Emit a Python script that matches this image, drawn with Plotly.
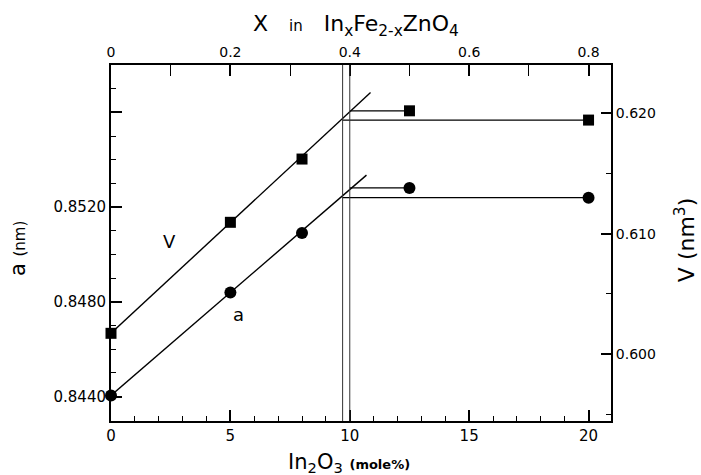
import plotly.graph_objects as go

# ---- data ----
in2o3_mole = [0, 5, 8, 12.5, 20]
lattice_a = [0.84405, 0.84840, 0.85091, 0.85281, 0.85240]
volume_v = [0.60172, 0.61095, 0.61621, 0.62022, 0.61945]

v_fit_x = [0, 10.87]
v_fit = [0.60172, 0.62175]
a_fit_x = [0, 10.70]
a_fit = [0.84405, 0.85335]

solubility_limits = [9.7, 10.0]

# tick settings (start, step)
bottom_tick0, bottom_dtick, bottom_minor = 0, 5, 1
top_tick0, top_dtick, top_minor = 0, 0.2, 0.1
left_tick0, left_dtick, left_minor = 0.8440, 0.004, 0.001
right_tick0, right_dtick, right_minor = 0.600, 0.010, 0.005

FONT = "DejaVu Sans"
X_RANGE = [0, 20.94]
fig = go.Figure()

# fit lines
fig.add_trace(go.Scatter(x=v_fit_x, y=v_fit, mode="lines", yaxis="y2",
                         line=dict(color="black", width=1.4), showlegend=False))
fig.add_trace(go.Scatter(x=a_fit_x, y=a_fit, mode="lines",
                         line=dict(color="black", width=1.4), showlegend=False))

# horizontal connectors beyond the solubility limit
fig.add_trace(go.Scatter(x=[solubility_limits[1], in2o3_mole[3]], y=[volume_v[3]] * 2,
                         mode="lines", yaxis="y2", line=dict(color="black", width=1.2), showlegend=False))
fig.add_trace(go.Scatter(x=[solubility_limits[0], in2o3_mole[4]], y=[volume_v[4]] * 2,
                         mode="lines", yaxis="y2", line=dict(color="black", width=1.2), showlegend=False))
fig.add_trace(go.Scatter(x=[solubility_limits[1], in2o3_mole[3]], y=[lattice_a[3]] * 2,
                         mode="lines", line=dict(color="black", width=1.2), showlegend=False))
fig.add_trace(go.Scatter(x=[solubility_limits[0], in2o3_mole[4]], y=[lattice_a[4]] * 2,
                         mode="lines", line=dict(color="black", width=1.2), showlegend=False))

# markers
fig.add_trace(go.Scatter(x=in2o3_mole, y=volume_v, mode="markers", yaxis="y2", cliponaxis=False,
                         marker=dict(symbol="square", size=11, color="black"), showlegend=False))
fig.add_trace(go.Scatter(x=in2o3_mole, y=lattice_a, mode="markers", cliponaxis=False,
                         marker=dict(symbol="circle", size=12, color="black"), showlegend=False))

# invisible trace for the top axis
fig.add_trace(go.Scatter(x=[0, 0.8], y=[lattice_a[0]] * 2, xaxis="x2",
                         mode="markers", marker=dict(opacity=0), showlegend=False, hoverinfo="skip"))

for xv in solubility_limits:
    fig.add_shape(type="line", xref="x", yref="paper", x0=xv, x1=xv, y0=0, y1=1,
                  line=dict(color="#333333", width=1))


def ax(size=14, **kw):
    d = dict(showline=True, linecolor="black", linewidth=2, showgrid=False, zeroline=False,
             ticks="inside", tickcolor="black", tickwidth=1.5, tickmode="linear",
             tickfont=dict(family=FONT, size=size, color="black"))
    d.update(kw)
    return d


def minor(step, start, length):
    return dict(dtick=step, tick0=start, ticklen=length, ticks="inside", tickcolor="black",
                tickwidth=1.2, showgrid=False)


fig.update_layout(
    width=701, height=475,
    margin=dict(l=111, r=90, t=65, b=54),
    plot_bgcolor="white", paper_bgcolor="white",
    xaxis=ax(15, range=X_RANGE, tick0=bottom_tick0, dtick=bottom_dtick, ticklen=11,
             minor=minor(bottom_minor, bottom_tick0, 5), side="bottom", anchor="y"),
    xaxis2=ax(14, range=[X_RANGE[0] * 0.04, X_RANGE[1] * 0.04], overlaying="x", side="top", anchor="y",
              tick0=top_tick0, dtick=top_dtick, ticklen=11,
              minor=minor(top_minor, top_tick0, 11)),
    yaxis=ax(15, range=[0.84297, 0.8580], tick0=left_tick0, dtick=left_dtick, tickformat=".4f",
             labelalias={"0.8560": ""},
             ticklen=11, minor=minor(left_minor, left_tick0, 5)),
    yaxis2=ax(14, range=[0.59443, 0.62403], overlaying="y", side="right", anchor="x",
              tick0=right_tick0, dtick=right_dtick, tickformat=".3f", ticklen=10,
              minor=minor(right_minor, right_tick0, 5)),
    annotations=[
        dict(text="X&nbsp;&nbsp;&nbsp;<span style='font-size:15px'>in</span>&nbsp;&nbsp;&nbsp;In<sub>x</sub>Fe<sub>2-x</sub>ZnO<sub>4</sub>",
             xref="paper", yref="paper", x=0.49, y=1.112, xanchor="center", yanchor="middle",
             showarrow=False, font=dict(family=FONT, size=22, color="black")),
        dict(text="In<sub>2</sub>O<sub>3</sub> <span style='font-size:13px;font-weight:bold'>(mole%)</span>",
             xref="paper", yref="paper", x=0.475, y=-0.118, xanchor="center", yanchor="middle",
             showarrow=False, font=dict(family=FONT, size=21, color="black")),
        dict(text="a <span style='font-size:15px'>(nm)</span>",
             xref="paper", yref="paper", x=-0.186, y=0.483, xanchor="center", yanchor="middle",
             textangle=-90, showarrow=False, font=dict(family=FONT, size=21, color="black")),
        dict(text="V (nm<sup>3</sup>)",
             xref="paper", yref="paper", x=1.148, y=0.508, xanchor="center", yanchor="middle",
             textangle=-90, showarrow=False, font=dict(family=FONT, size=22, color="black")),
        dict(text="V", xref="x", yref="y", x=2.47, y=0.85056, showarrow=False,
             font=dict(family=FONT, size=18, color="black")),
        dict(text="a", xref="x", yref="y", x=5.36, y=0.84748, showarrow=False,
             font=dict(family=FONT, size=18, color="black")),
    ],
)

fig.write_html("out.html")
